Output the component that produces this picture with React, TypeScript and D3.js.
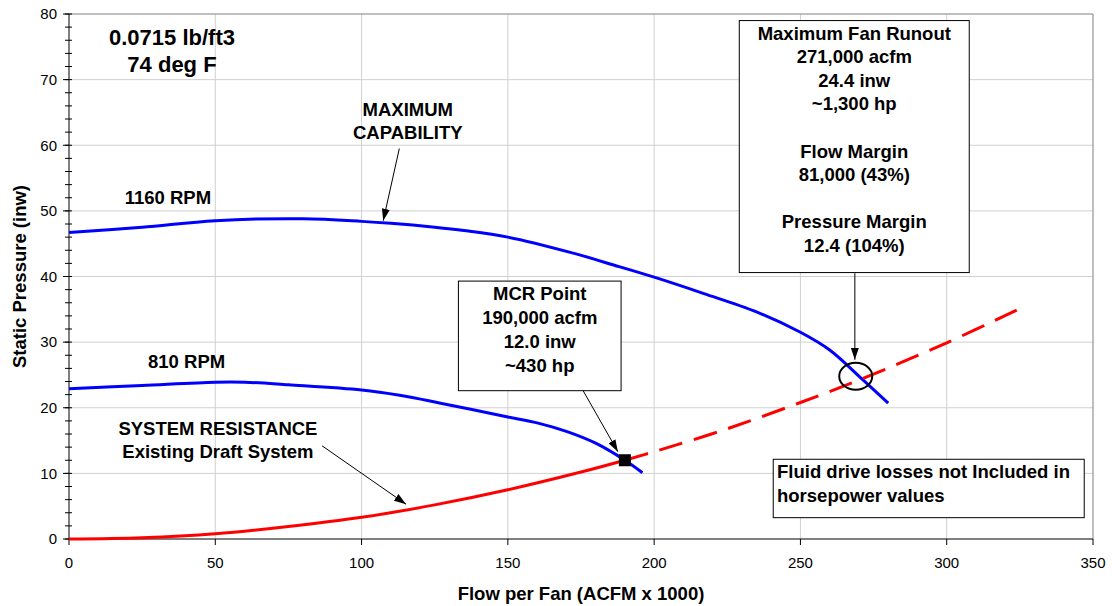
import React from 'react'
import * as d3 from 'd3'

// fan curves, flow in acfm x 1000, static pressure in inw
const rpm1160Flow = [0, 25, 50, 80, 100, 110, 125, 135, 150, 172, 188, 200, 217, 235, 250, 260, 271, 280]
const rpm1160Pressure = [46.7, 47.5, 48.5, 48.8, 48.4, 48.1, 47.5, 47.0, 46.0, 43.6, 41.5, 39.9, 37.4, 34.6, 31.5, 28.8, 24.4, 20.7]

const rpm810Flow = [0, 25, 50, 60, 75, 100, 113, 127, 150, 160, 170, 180, 190, 196]
const rpm810Pressure = [22.9, 23.4, 23.9, 23.9, 23.5, 22.7, 21.9, 20.7, 18.6, 17.7, 16.4, 14.6, 12.0, 10.1]

// system resistance, existing (solid) and extension (dashed)
const sysFlow = [0, 25, 50, 75, 100, 125, 150, 175, 190]
const sysPressure = [0, 0.2, 0.8, 1.9, 3.3, 5.2, 7.5, 10.2, 12.0]
const sysExtFlow = [190, 200, 225, 250, 271, 300, 325]
const sysExtPressure = [12.0, 13.3, 16.8, 20.8, 24.4, 29.9, 35.1]

const xTicks = [0, 50, 100, 150, 200, 250, 300, 350]
const yTicks = [0, 10, 20, 30, 40, 50, 60, 70, 80]
const yMinorTicks = d3.range(0, 81, 2)

const mcrPoint = { flow: 190, pressure: 12.0 }
const runoutPoint = { flow: 268.9, pressure: 24.8 }

const mcrLines = ['MCR Point', '190,000 acfm', '12.0 inw', '~430 hp']
const runoutLines = ['Maximum Fan Runout', '271,000 acfm', '24.4 inw', '~1,300 hp', '', 'Flow Margin', '81,000 (43%)', '', 'Pressure Margin', '12.4 (104%)']
const noteLines = ['Fluid drive losses not Included in', 'horsepower values']

const W = 1112
const H = 606
const FONT = 'Liberation Sans, Arial, sans-serif'

export default function App() {
  const x = d3.scaleLinear().domain([0, 350]).range([69, 1093])
  const y = d3.scaleLinear().domain([0, 80]).range([539, 14])

  const line = d3
    .line<[number, number]>()
    .x((d) => x(d[0]))
    .y((d) => y(d[1]))
    .curve(d3.curveCatmullRom.alpha(0.5))

  const zip = (a: number[], b: number[]) => a.map((v, i) => [v, b[i]] as [number, number])

  const arrows = [
    { from: [112.9, 59.5], to: [107.4, 48.5] },
    { from: [86.5, 14.2], to: [115.2, 5.3] },
    { from: [175.6, 22.7], to: [187.6, 13.3] },
    { from: [268.6, 40.5], to: [268.6, 27.3] },
  ]

  const bold = { fontFamily: FONT, fontWeight: 'bold' as const, fontSize: 18.5, fill: '#000' }

  return (
    <svg width={W} height={H} style={{ position: 'absolute', left: 0, top: 0, background: '#fff' }}>
      <defs>
        <marker id="arrow" viewBox="0 0 12 8" refX="12" refY="4" markerWidth="12" markerHeight="8" markerUnits="userSpaceOnUse" orient="auto">
          <path d="M0,0 L12,4 L0,8 Z" fill="#000" />
        </marker>
      </defs>

      {/* grid */}
      {xTicks.slice(1, -1).map((t) => (
        <line key={'gx' + t} x1={x(t)} x2={x(t)} y1={y(0)} y2={y(80)} stroke="#d0d0d0" strokeWidth={1} />
      ))}
      {yTicks.slice(1, -1).map((t) => (
        <line key={'gy' + t} x1={x(0)} x2={x(350)} y1={y(t)} y2={y(t)} stroke="#d0d0d0" strokeWidth={1} />
      ))}
      <line x1={x(0)} x2={x(350)} y1={y(80)} y2={y(80)} stroke="#808080" />
      <line x1={x(350)} x2={x(350)} y1={y(0)} y2={y(80)} stroke="#808080" />

      {/* axes */}
      <line x1={x(0)} x2={x(0)} y1={y(0)} y2={y(80)} stroke="#000" />
      <line x1={x(0)} x2={x(350)} y1={y(0)} y2={y(0)} stroke="#000" />
      {yMinorTicks.map((t) => (
        <line key={'ym' + t} x1={x(0) - 4} x2={x(0) + 3} y1={y(t)} y2={y(t)} stroke="#000" />
      ))}
      {yTicks.map((t) => (
        <g key={'yt' + t}>
          <line x1={x(0) - 6} x2={x(0)} y1={y(t)} y2={y(t)} stroke="#000" />
          <text x={x(0) - 12} y={y(t)} dy="0.35em" textAnchor="end" fontFamily={FONT} fontSize={15}>
            {t}
          </text>
        </g>
      ))}
      {xTicks.map((t) => (
        <g key={'xt' + t}>
          <line x1={x(t)} x2={x(t)} y1={y(0)} y2={y(0) + 6} stroke="#000" />
          <text x={x(t)} y={y(0) + 24} dy="0.35em" textAnchor="middle" fontFamily={FONT} fontSize={15}>
            {t}
          </text>
        </g>
      ))}
      <text x={581} y={594} dy="0.35em" textAnchor="middle" {...bold}>
        Flow per Fan (ACFM x 1000)
      </text>
      <text transform={`translate(20,${y(40)}) rotate(-90)`} dy="0.35em" textAnchor="middle" {...bold}>
        Static Pressure (inw)
      </text>

      {/* curves */}
      <path d={line(zip(rpm1160Flow, rpm1160Pressure)) || ''} fill="none" stroke="#0000ff" strokeWidth={3} />
      <path d={line(zip(rpm810Flow, rpm810Pressure)) || ''} fill="none" stroke="#0000ff" strokeWidth={3} />
      <path d={line(zip(sysFlow, sysPressure)) || ''} fill="none" stroke="#ff0000" strokeWidth={3} />
      <path d={line(zip(sysExtFlow, sysExtPressure)) || ''} fill="none" stroke="#ff0000" strokeWidth={3} strokeDasharray="24 12" />

      {/* markers */}
      <rect x={x(mcrPoint.flow) - 6} y={y(mcrPoint.pressure) - 6} width={12} height={12} fill="#000" />
      <ellipse cx={x(runoutPoint.flow)} cy={y(runoutPoint.pressure)} rx={16.5} ry={13.5} fill="none" stroke="#000" strokeWidth={2} />

      {/* arrows */}
      {arrows.map((a, i) => (
        <line key={'a' + i} x1={x(a.from[0])} y1={y(a.from[1])} x2={x(a.to[0])} y2={y(a.to[1])} stroke="#000" strokeWidth={1} markerEnd="url(#arrow)" />
      ))}

      {/* labels */}
      <text x={x(35.2)} y={y(76.5)} dy="0.35em" textAnchor="middle" {...bold} fontSize={22}>0.0715 lb/ft3</text>
      <text x={x(35.2)} y={y(72.4)} dy="0.35em" textAnchor="middle" {...bold} fontSize={22}>74 deg F</text>
      <text x={x(33.8)} y={y(52.1)} dy="0.35em" textAnchor="middle" {...bold}>1160 RPM</text>
      <text x={x(40.2)} y={y(27.0)} dy="0.35em" textAnchor="middle" {...bold}>810 RPM</text>
      <text x={x(115.8)} y={y(65.5)} dy="0.35em" textAnchor="middle" {...bold}>MAXIMUM</text>
      <text x={x(115.8)} y={y(62.0)} dy="0.35em" textAnchor="middle" {...bold}>CAPABILITY</text>
      <text x={x(50.9)} y={y(16.9)} dy="0.35em" textAnchor="middle" {...bold}>SYSTEM RESISTANCE</text>
      <text x={x(50.9)} y={y(13.3)} dy="0.35em" textAnchor="middle" {...bold}>Existing Draft System</text>

      {/* MCR box */}
      <rect x={x(133.1)} y={y(39.3)} width={x(188.7) - x(133.1)} height={y(22.6) - y(39.3)} fill="#fff" stroke="#000" strokeWidth={1} />
      {mcrLines.map((t, i) => (
        <text key={'m' + i} x={x(160.9)} y={y(39.3) + 12 + i * 24} dy="0.35em" textAnchor="middle" {...bold}>{t}</text>
      ))}

      {/* runout box */}
      <rect x={x(229.1)} y={y(79.0)} width={x(307.7) - x(229.1)} height={y(40.6) - y(79.0)} fill="#fff" stroke="#000" strokeWidth={1} />
      {runoutLines.map((t, i) => (
        <text key={'r' + i} x={x(268.4)} y={y(79.0) + 12.5 + i * 23.6} dy="0.35em" textAnchor="middle" {...bold}>{t}</text>
      ))}

      {/* note box */}
      <rect x={x(240.7)} y={y(12.15)} width={x(347.0) - x(240.7)} height={y(3.25) - y(12.15)} fill="#fff" stroke="#000" strokeWidth={1} />
      {noteLines.map((t, i) => (
        <text key={'n' + i} x={x(242.0)} y={y(12.15) + 12.5 + i * 23.5} dy="0.35em" textAnchor="start" {...bold}>{t}</text>
      ))}
    </svg>
  )
}
